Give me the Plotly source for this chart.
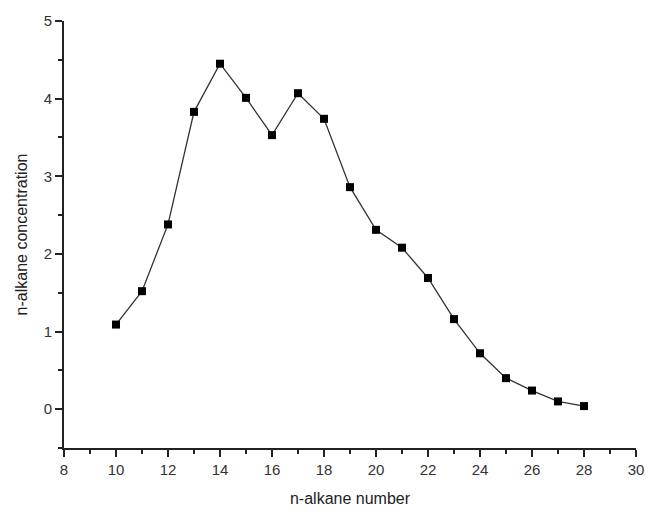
import plotly.graph_objects as go

carbon_number = [10, 11, 12, 13, 14, 15, 16, 17, 18, 19, 20, 21, 22, 23, 24, 25, 26, 27, 28]
concentration = [1.09, 1.52, 2.38, 3.83, 4.45, 4.01, 3.53, 4.07, 3.74, 2.86, 2.31, 2.08, 1.69,
                 1.16, 0.72, 0.40, 0.24, 0.10, 0.04]

FONT = "Liberation Sans, Arial, sans-serif"

fig = go.Figure()
fig.add_trace(go.Scatter(
    x=carbon_number, y=concentration, mode="lines+markers",
    line=dict(color="#333333", width=1.3),
    marker=dict(symbol="square", size=8, color="black"),
    showlegend=False,
))

axis_common = dict(
    showline=True, linecolor="#222222", linewidth=2,
    ticks="outside", ticklen=7, tickwidth=1.5, tickcolor="#222222",
    showgrid=False, zeroline=False, mirror=False,
    tickfont=dict(family=FONT, size=15, color="#333333"),
)

fig.update_xaxes(
    range=[8, 30], dtick=2, tick0=8,
    minor=dict(ticks="outside", ticklen=4, tickwidth=1.5, tickcolor="#222222", dtick=1, showgrid=False),
    title=dict(text="n-alkane number", font=dict(family=FONT, size=16, color="#222222"), standoff=16),
    **axis_common,
)
fig.update_yaxes(
    range=[-0.5, 5], dtick=1, tick0=0,
    minor=dict(ticks="outside", ticklen=4, tickwidth=1.5, tickcolor="#222222", dtick=0.5, tick0=0, showgrid=False),
    title=dict(text="n-alkane concentration", font=dict(family=FONT, size=16, color="#222222"), standoff=12),
    **axis_common,
)

fig.update_layout(
    width=656, height=517,
    margin=dict(l=64, r=14, t=20, b=68),
    paper_bgcolor="white", plot_bgcolor="white",
)

fig.write_html("out.html")
